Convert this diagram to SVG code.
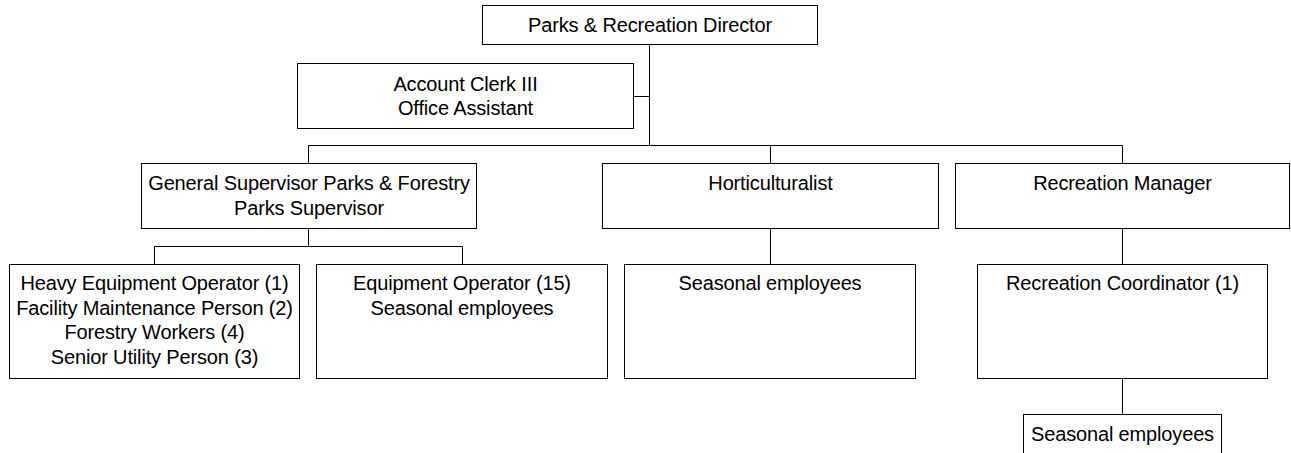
<svg xmlns="http://www.w3.org/2000/svg" width="1291" height="453" viewBox="0 0 1291 453">
  <style>
    .box { fill: #ffffff; stroke: #000000; stroke-width: 1; }
    .link { fill: none; stroke: #000000; stroke-width: 1; }
    .lbl { font-family: "Liberation Sans", Arial, sans-serif; font-size: 20px; letter-spacing: -0.15px; fill: #000000; text-anchor: middle; }
  </style>
  <rect width="1291" height="453" fill="#ffffff"/>

  <!-- reporting lines -->
  <g id="connectors">
    <path class="link" d="M649.5 44.5 V145.5"/>
    <path class="link" d="M633.5 96.5 H649.5"/>
    <path class="link" d="M308.5 163.5 V145.5 H1122.5 V163.5"/>
    <path class="link" d="M770.5 145.5 V163.5"/>
    <path class="link" d="M308.5 228.5 V246.5"/>
    <path class="link" d="M154.5 264.5 V246.5 H462.5 V264.5"/>
    <path class="link" d="M770.5 228.5 V264.5"/>
    <path class="link" d="M1122.5 228.5 V264.5"/>
    <path class="link" d="M1122.5 378.5 V414.5"/>
  </g>

  <g id="director">
    <rect class="box" x="482.5" y="5.5" width="335" height="39"/>
    <text class="lbl" x="650" y="32">Parks &amp; Recreation Director</text>
  </g>

  <g id="office-staff">
    <rect class="box" x="297.5" y="63.5" width="336" height="65"/>
    <text class="lbl" x="465.5" y="91">Account Clerk III</text>
    <text class="lbl" x="465.5" y="115">Office Assistant</text>
  </g>

  <g id="general-supervisor">
    <rect class="box" x="141.5" y="163.5" width="335" height="65"/>
    <text class="lbl" x="309" y="190">General Supervisor Parks &amp; Forestry</text>
    <text class="lbl" x="309" y="215">Parks Supervisor</text>
  </g>

  <g id="horticulturalist">
    <rect class="box" x="602.5" y="163.5" width="336" height="65"/>
    <text class="lbl" x="770.5" y="190">Horticulturalist</text>
  </g>

  <g id="recreation-manager">
    <rect class="box" x="955.5" y="163.5" width="334" height="65"/>
    <text class="lbl" x="1122.5" y="190">Recreation Manager</text>
  </g>

  <g id="parks-crew">
    <rect class="box" x="9.5" y="264.5" width="290" height="114"/>
    <text class="lbl" x="154.5" y="290">Heavy Equipment Operator (1)</text>
    <text class="lbl" x="154.5" y="315">Facility Maintenance Person (2)</text>
    <text class="lbl" x="154.5" y="339">Forestry Workers (4)</text>
    <text class="lbl" x="154.5" y="364">Senior Utility Person (3)</text>
  </g>

  <g id="equipment-operators">
    <rect class="box" x="316.5" y="264.5" width="291" height="114"/>
    <text class="lbl" x="462" y="290">Equipment Operator (15)</text>
    <text class="lbl" x="462" y="315">Seasonal employees</text>
  </g>

  <g id="horticulture-seasonal">
    <rect class="box" x="624.5" y="264.5" width="291" height="114"/>
    <text class="lbl" x="770" y="290">Seasonal employees</text>
  </g>

  <g id="recreation-coordinator">
    <rect class="box" x="977.5" y="264.5" width="290" height="114"/>
    <text class="lbl" x="1122.5" y="290">Recreation Coordinator (1)</text>
  </g>

  <g id="recreation-seasonal">
    <rect class="box" x="1023.5" y="414.5" width="198" height="50"/>
    <text class="lbl" x="1122.5" y="441">Seasonal employees</text>
  </g>
</svg>
